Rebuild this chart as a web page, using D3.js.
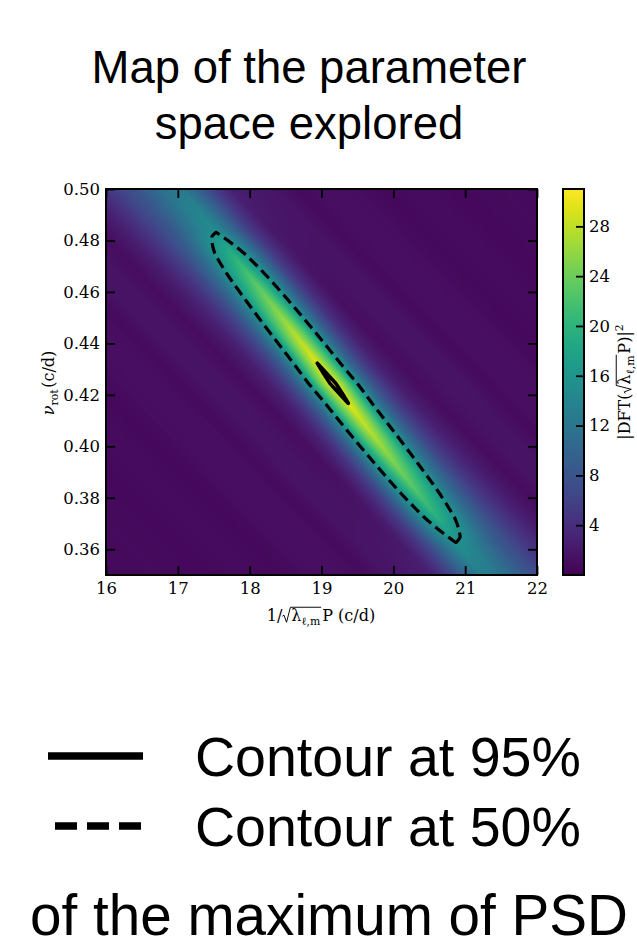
<!DOCTYPE html>
<html><head><meta charset="utf-8">
<script src="https://cdn.jsdelivr.net/npm/d3@7"></script>
<style>html,body{margin:0;padding:0;background:#fff;} svg{display:block;}</style>
</head><body>
<svg id="chart" width="637" height="946"></svg>
<script>
// ---------------- data ----------------
const titleLines = ["Map of the parameter", "space explored"];
const xTicks = [16, 17, 18, 19, 20, 21, 22];
const yTicks = [0.36, 0.38, 0.40, 0.42, 0.44, 0.46, 0.48, 0.50];
const cbTicks = [4, 8, 12, 16, 20, 24, 28];
const xDomain = [16, 22];
const yDomain = [0.35, 0.50];
const psdRange = [0, 31];
const contourLevels = [0.50, 0.95];
const legendLabels = ["Contour at 95%", "Contour at 50%"];
const footnote = "of the maximum of PSD";

// ridge of maximum power
const ridgeCentre = [19.16, 0.4244];   // peak position (1/sqrt(lambda)P, nu_rot)
const ridgeSlope = -27.7;              // d(1/sqrt(lambda)P)/d(nu_rot) along the ridge
const haloSlope = -34.7;               // orientation of the broad side-lobe band
// power on the ridge vs offset in nu_rot from the peak
const alongOffsets = [-0.08, -0.063, -0.052, -0.04, -0.02, -0.0075, 0, 0.0075, 0.02, 0.04, 0.05, 0.06, 0.08];
const alongPower   = [8.0, 10.2, 14.3, 17.3, 21.5, 23.6, 25, 23.6, 21.5, 17.1, 14.3, 10.0, 7.6];
const alongWidth   = [1.5, 1.32, 1.22, 1.15, 1.05, 1, 1, 1, 1.05, 1.15, 1.22, 1.3, 1.5];
// relative cross-section of the ridge vs horizontal offset (c/d)
const crossOffsets = [0, 0.04, 0.1, 0.2, 0.33, 0.45, 0.6, 0.75, 0.9, 1.1];
const crossShape   = [1, 0.94, 0.85, 0.68, 0.42, 0.24, 0.11, 0.04, 0.01, 0];
// broad band and side lobes vs horizontal offset from the band axis
const haloOffsets = [0, 0.3, 0.6, 0.9, 1.2, 1.5, 1.8, 2.1, 2.5, 2.9, 3.3, 3.8, 4.3, 5.0, 6.0];
const haloPower   = [6, 5.5, 3.8, 1.9, 0.7, 1.2, 1.3, 0.6, 0.9, 0.8, 0.4, 0.7, 0.4, 0.6, 0.4];
const floorPower = 0.2;

// ---------------- layout ----------------
const svg = d3.select("#chart");
const plotBox = {left: 106, right: 537, top: 189, bottom: 575};
const cbBox = {left: 563, right: 584, top: 189, bottom: 575};
const x = d3.scaleLinear().domain(xDomain).range([plotBox.left, plotBox.right]);
const y = d3.scaleLinear().domain(yDomain).range([plotBox.bottom, plotBox.top]);
const color = d3.scaleSequential(d3.interpolateViridis).domain(psdRange);
const SERIF = "DejaVu Serif";
const SANS = "Liberation Sans";

function lerp(xs, ys, v) {
  const n = xs.length;
  if (v <= xs[0]) return ys[0];
  if (v >= xs[n - 1]) return ys[n - 1];
  const i = d3.bisectRight(xs, v) - 1;
  const t = (v - xs[i]) / (xs[i + 1] - xs[i]);
  return ys[i] + t * (ys[i + 1] - ys[i]);
}
function psd(xv, nv) {
  const dn = nv - ridgeCentre[1];
  const amp = lerp(alongOffsets, alongPower, dn);
  const w = lerp(alongOffsets, alongWidth, dn);
  const d = xv - (ridgeCentre[0] + ridgeSlope * dn);
  const dh = xv - (ridgeCentre[0] + haloSlope * dn);
  return floorPower + amp * lerp(crossOffsets, crossShape, Math.abs(d) / w)
       + lerp(haloOffsets, haloPower, Math.abs(dh));
}

// ---------------- heat map ----------------
const pw = plotBox.right - plotBox.left, ph = plotBox.bottom - plotBox.top;
const lut = d3.range(256).map(k => d3.rgb(d3.interpolateViridis(k / 255)));
const canvas = document.createElement("canvas");
canvas.width = pw; canvas.height = ph;
const ctx = canvas.getContext("2d");
const img = ctx.createImageData(pw, ph);
for (let j = 0; j < ph; j++) {
  const nv = y.invert(plotBox.top + j + 0.5);
  for (let i = 0; i < pw; i++) {
    const v = psd(x.invert(plotBox.left + i + 0.5), nv);
    let t = (v - psdRange[0]) / (psdRange[1] - psdRange[0]);
    t = Math.max(0, Math.min(1, t));
    const c = lut[Math.round(t * 255)];
    const o = (j * pw + i) * 4;
    img.data[o] = c.r; img.data[o + 1] = c.g; img.data[o + 2] = c.b; img.data[o + 3] = 255;
  }
}
ctx.putImageData(img, 0, 0);
svg.append("image")
  .attr("x", plotBox.left).attr("y", plotBox.top)
  .attr("width", pw).attr("height", ph)
  .attr("preserveAspectRatio", "none")
  .attr("href", canvas.toDataURL());

// ---------------- contours ----------------
const nx = pw * 2, ny = ph * 2;
const vals = new Float64Array(nx * ny);
for (let j = 0; j < ny; j++) {
  const nv = yDomain[1] - (j + 0.5) * (yDomain[1] - yDomain[0]) / ny;
  for (let i = 0; i < nx; i++) {
    vals[j * nx + i] = psd(xDomain[0] + (i + 0.5) * (xDomain[1] - xDomain[0]) / nx, nv);
  }
}
const vmax = d3.max(vals);
const contours = d3.contours().size([nx, ny]).thresholds(contourLevels.map(l => l * vmax))(vals);
const proj = d3.geoTransform({
  point(gx, gy) {
    this.stream.point(
      x(xDomain[0] + gx * (xDomain[1] - xDomain[0]) / nx),
      y(yDomain[1] - gy * (yDomain[1] - yDomain[0]) / ny));
  }
});
const gpath = d3.geoPath(proj);
svg.append("g").selectAll("path").data(contours).join("path")
  .attr("d", gpath)
  .attr("fill", "none")
  .attr("stroke", "#000")
  .attr("stroke-linejoin", "round")
  .attr("stroke-width", d => d.value > 0.9 * vmax ? 3.6 : 3.2)
  .attr("stroke-dasharray", d => d.value > 0.9 * vmax ? null : "11,5.5");

// ---------------- axes ----------------
function styleAxis(g) {
  g.select(".domain").remove();
  g.selectAll(".tick line").attr("stroke", "#000").attr("stroke-width", 1.8);
  g.selectAll(".tick text").attr("font-family", SERIF).attr("font-size", 16.5).attr("fill", "#000");
}
svg.append("g").attr("transform", `translate(0,${plotBox.bottom})`)
  .call(d3.axisBottom(x).tickValues(xTicks).tickSize(-9).tickPadding(7).tickFormat(d3.format("d")))
  .call(styleAxis);
svg.append("g").attr("transform", `translate(0,${plotBox.top})`)
  .call(d3.axisTop(x).tickValues(xTicks).tickSize(-9).tickFormat(() => ""))
  .call(styleAxis);
svg.append("g").attr("transform", `translate(${plotBox.left},0)`)
  .call(d3.axisLeft(y).tickValues(yTicks).tickSize(-9).tickPadding(6).tickFormat(d3.format(".2f")))
  .call(styleAxis);
svg.append("g").attr("transform", `translate(${plotBox.right},0)`)
  .call(d3.axisRight(y).tickValues(yTicks).tickSize(-9).tickFormat(() => ""))
  .call(styleAxis);
svg.append("rect")
  .attr("x", plotBox.left).attr("y", plotBox.top).attr("width", pw).attr("height", ph)
  .attr("fill", "none").attr("stroke", "#000").attr("stroke-width", 2);

// ---------------- colour bar ----------------
const cbScale = d3.scaleLinear().domain(psdRange).range([cbBox.bottom, cbBox.top]);
const grad = svg.append("defs").append("linearGradient").attr("id", "cbgrad")
  .attr("x1", 0).attr("y1", 1).attr("x2", 0).attr("y2", 0);
d3.range(0, 1.0001, 0.05).forEach(t => {
  grad.append("stop").attr("offset", t)
    .attr("stop-color", color(psdRange[0] + t * (psdRange[1] - psdRange[0])));
});
svg.append("rect")
  .attr("x", cbBox.left).attr("y", cbBox.top)
  .attr("width", cbBox.right - cbBox.left).attr("height", cbBox.bottom - cbBox.top)
  .attr("fill", "url(#cbgrad)");
svg.append("g").attr("transform", `translate(${cbBox.right},0)`)
  .call(d3.axisRight(cbScale).tickValues(cbTicks).tickSize(-8).tickPadding(5))
  .call(styleAxis);
svg.append("rect")
  .attr("x", cbBox.left).attr("y", cbBox.top)
  .attr("width", cbBox.right - cbBox.left).attr("height", cbBox.bottom - cbBox.top)
  .attr("fill", "none").attr("stroke", "#000").attr("stroke-width", 2);

// ---------------- math labels ----------------
function richText(parent, parts, size) {
  const g = parent.append("g");
  let cx = 0, overEnd = null;
  const radicals = [];
  parts.forEach(p => {
    if (p.radical) { radicals.push(cx); cx += size * 0.55; return; }
    const fs = size * (p.scale || 1);
    const t = g.append("text").attr("x", cx).attr("y", (p.shift || 0) * size)
      .attr("font-family", SERIF).attr("font-size", fs)
      .attr("font-style", p.italic ? "italic" : "normal")
      .attr("fill", "#000").attr("xml:space", "preserve").text(p.t);
    cx += t.node().getComputedTextLength() + (p.gap || 0) * size;
    if (p.over) overEnd = cx - (p.gap || 0) * size;
  });
  radicals.forEach(a => {
    g.append("path")
      .attr("d", `M${a},${-0.30 * size} L${a + 0.1 * size},${-0.36 * size} L${a + 0.26 * size},${0.08 * size} L${a + 0.5 * size},${-0.86 * size} L${overEnd + 0.05 * size},${-0.86 * size}`)
      .attr("fill", "none").attr("stroke", "#000").attr("stroke-width", size * 0.06);
  });
  g.attr("transform", `translate(${-cx / 2},0)`);
  return g;
}
const lamParts = [
  {radical: true},
  {t: "λ", over: true},
  {t: "ℓ,m", scale: 0.68, shift: 0.25, over: true, gap: 0.12}
];
// x label
richText(svg.append("g").attr("transform", "translate(321,621)"),
  [{t: "1/"}, ...lamParts, {t: "P (c/d)"}], 16);
// y label
richText(svg.append("g").attr("transform", "translate(54,383) rotate(-90)"),
  [{t: "ν", italic: true}, {t: "rot", scale: 0.68, shift: 0.25, gap: 0.1}, {t: "(c/d)"}], 16);
// colour bar label
richText(svg.append("g").attr("transform", "translate(630,382) rotate(-90)"),
  [{t: "|DFT("}, ...lamParts, {t: "P)|"}, {t: "2", scale: 0.68, shift: -0.45}], 16);

// ---------------- title, legend ----------------
function fitText(sel, target) {
  const w = sel.node().getComputedTextLength();
  const fs = parseFloat(sel.attr("font-size"));
  return fs * target / w;
}
const t1 = svg.append("text").attr("x", 309).attr("y", 83).attr("text-anchor", "middle")
  .attr("font-family", SANS).attr("font-size", 45).attr("fill", "#000").text(titleLines[0]);
const titleSize = fitText(t1, 435);
t1.attr("font-size", titleSize);
svg.append("text").attr("x", 309).attr("y", 139).attr("text-anchor", "middle")
  .attr("font-family", SANS).attr("font-size", titleSize).attr("fill", "#000").text(titleLines[1]);

const legendRows = [
  {label: legendLabels[0], y: 756, dash: null, x1: 48, x2: 143},
  {label: legendLabels[1], y: 826, dash: "22,10", x1: 55, x2: 141}
];
let legendSize = null;
legendRows.forEach(r => {
  svg.append("line").attr("x1", r.x1).attr("x2", r.x2).attr("y1", r.y).attr("y2", r.y)
    .attr("stroke", "#000").attr("stroke-width", 7.5).attr("stroke-dasharray", r.dash);
  const t = svg.append("text").attr("x", 195).attr("y", r.y)
    .attr("font-family", SANS).attr("font-size", 52).attr("fill", "#000").text(r.label);
  if (legendSize === null) legendSize = fitText(t, 386);
  t.attr("font-size", legendSize).attr("y", r.y + legendSize * 0.716 / 2);
});
const fn = svg.append("text").attr("x", 329).attr("y", 935).attr("text-anchor", "middle")
  .attr("font-family", SANS).attr("font-size", 55).attr("fill", "#000").text(footnote);
fn.attr("font-size", fitText(fn, 598));
</script>
</body></html>
